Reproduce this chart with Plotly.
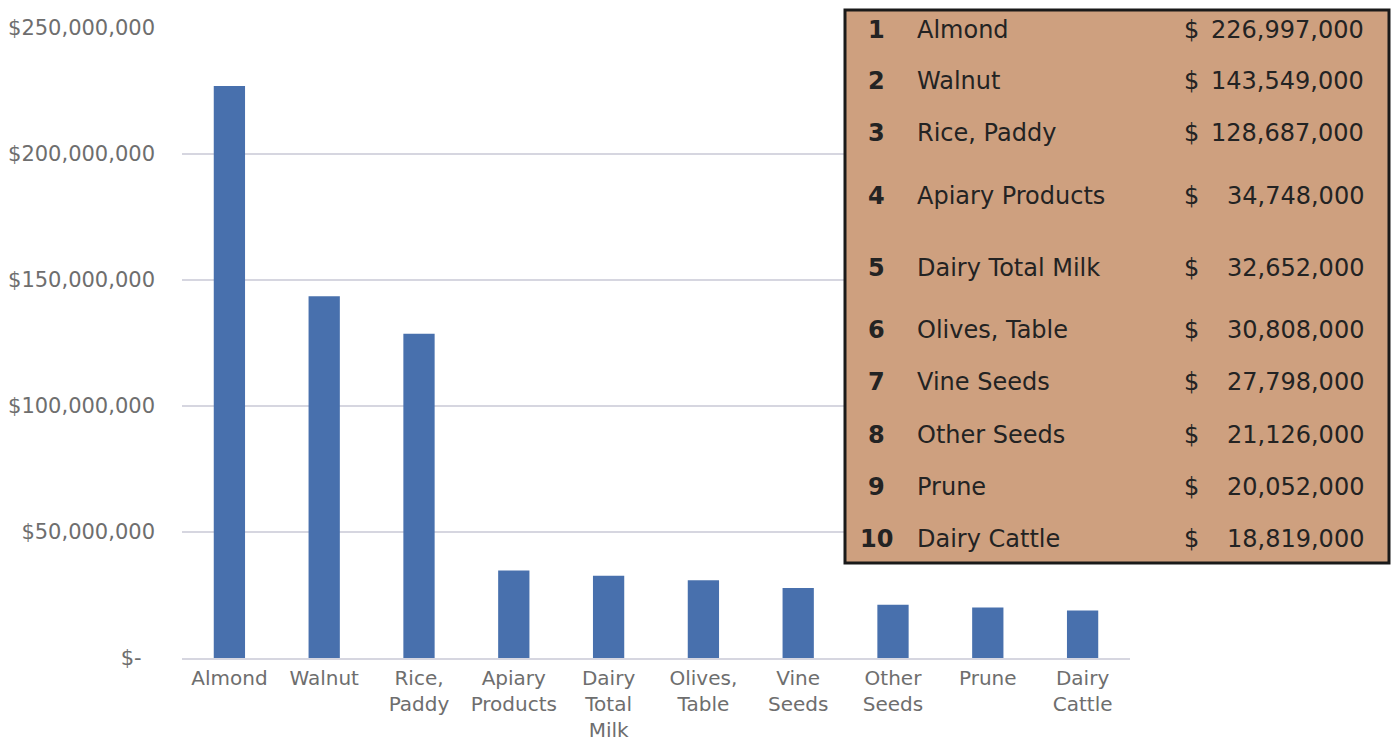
import plotly.graph_objects as go

OFF = 8  # page body margin
W, H = 1399 - 2 * OFF, 750 - 2 * OFF

categories = ["Almond", "Walnut", "Rice,<br>Paddy", "Apiary<br>Products", "Dairy<br>Total<br>Milk",
              "Olives,<br>Table", "Vine<br>Seeds", "Other<br>Seeds", "Prune", "Dairy<br>Cattle"]
table_names = ["Almond", "Walnut", "Rice, Paddy", "Apiary Products", "Dairy Total Milk",
               "Olives, Table", "Vine Seeds", "Other Seeds", "Prune", "Dairy Cattle"]
values = [226997000, 143549000, 128687000, 34748000, 32652000,
          30808000, 27798000, 21126000, 20052000, 18819000]
ranks = [1, 2, 3, 4, 5, 6, 7, 8, 9, 10]
y_tickvals = [0, 50000000, 100000000, 150000000, 200000000, 250000000]
y_ticktext = ["$-\u00a0\u00a0", "$50,000,000", "$100,000,000", "$150,000,000", "$200,000,000", "$250,000,000"]

def px(x):
    return (x - OFF) / W

def py(y):
    return 1 - (y - OFF) / H

fig = go.Figure()
fig.add_trace(go.Bar(x=list(range(len(values))), y=values, marker_color="#4870ad",
                     marker_line_width=0, hoverinfo="skip"))

FONT = "'DejaVu Sans', sans-serif"
fig.update_layout(
    width=W, height=H,
    margin=dict(l=0, r=0, t=0, b=0, autoexpand=False),
    paper_bgcolor="white", plot_bgcolor="white",
    showlegend=False,
    bargap=0.67,
    font=dict(family=FONT, color="#6b6b6b"),
    xaxis=dict(domain=[px(182), px(1130)], range=[-0.5, 9.5], automargin=False,
               tickmode="array", tickvals=list(range(10)), ticktext=categories,
               tickfont=dict(size=20, color="#6e6e6e"), showgrid=False,
               showline=True, linecolor="#d6d6e0", linewidth=2, ticks="", ticklabelstandoff=1),
    yaxis=dict(domain=[py(658), py(28)], range=[0, 250000000], automargin=False,
               tickmode="array", tickvals=y_tickvals, ticktext=y_ticktext,
               tickfont=dict(size=21, color="#6e6e6e"), showgrid=True,
               gridcolor="#d6d6e0", gridwidth=2, zeroline=False, showline=False,
               ticks="", ticklabelstandoff=26),
)

# table overlay
fig.add_shape(type="rect", xref="paper", yref="paper",
              x0=px(845), x1=px(1389), y0=py(563), y1=py(10),
              fillcolor="#cea07f", line=dict(color="#1a1a1a", width=3), layer="above")

row_y = [30, 81, 133, 196, 268, 330, 382, 435, 487, 539]
tfont = dict(family=FONT, size=24, color="#232323")
for r, name, v, yy in zip(ranks, table_names, values, row_y):
    fig.add_annotation(xref="paper", yref="paper", x=px(876), y=py(yy), text=f"<b>{r}</b>",
                       showarrow=False, xanchor="center", yanchor="middle", font=tfont)
    fig.add_annotation(xref="paper", yref="paper", x=px(915), y=py(yy), text=name,
                       showarrow=False, xanchor="left", yanchor="middle", font=tfont)
    fig.add_annotation(xref="paper", yref="paper", x=px(1191), y=py(yy), text="$",
                       showarrow=False, xanchor="center", yanchor="middle", font=tfont)
    fig.add_annotation(xref="paper", yref="paper", x=px(1366), y=py(yy), text=f"{v:,}",
                       showarrow=False, xanchor="right", yanchor="middle", font=tfont)

fig.write_html("out.html")
